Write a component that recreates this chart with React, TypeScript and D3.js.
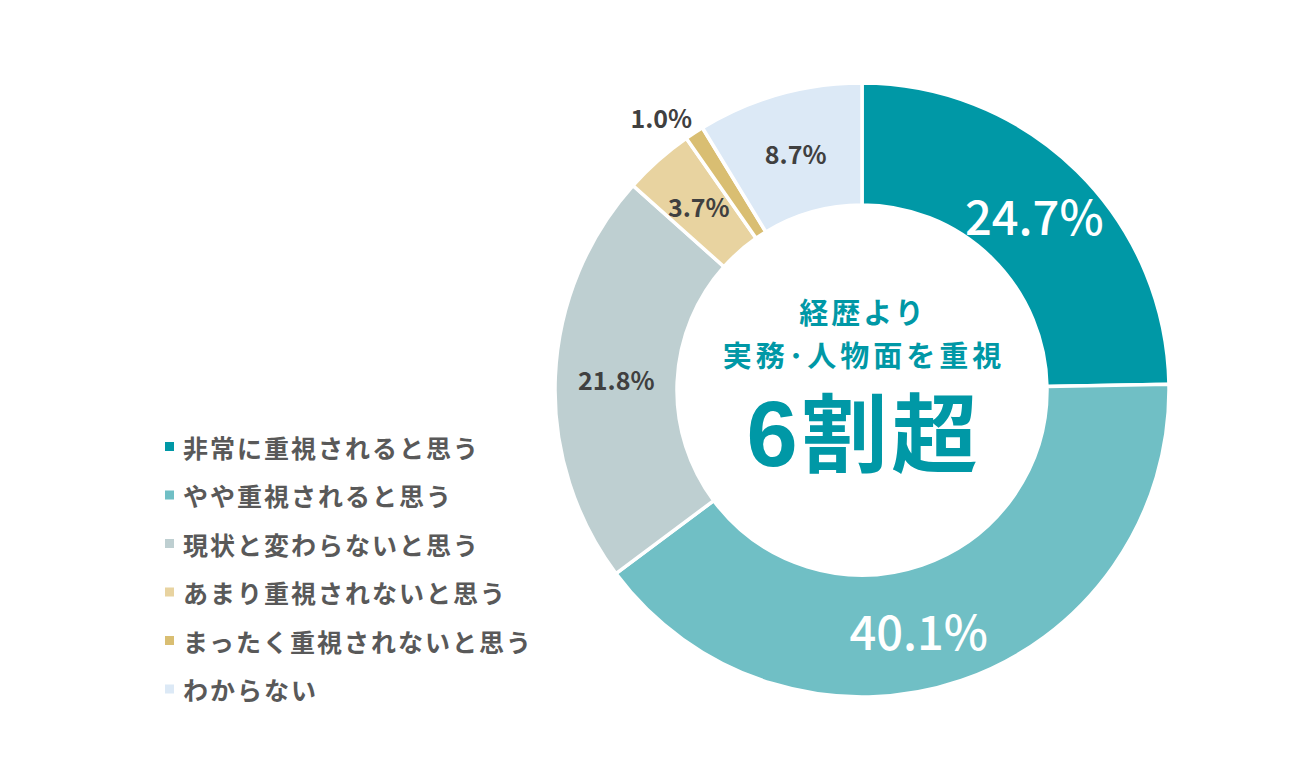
import React from "react";
import * as d3 from "d3";

const categories = [
  "非常に重視されると思う",
  "やや重視されると思う",
  "現状と変わらないと思う",
  "あまり重視されないと思う",
  "まったく重視されないと思う",
  "わからない",
];
const values = [24.7, 40.1, 21.8, 3.7, 1.0, 8.7];
const colors = ["#0098a6", "#70bfc5", "#becfd1", "#e8d3a0", "#d9be72", "#dce9f6"];
const labelText = ["24.7%", "40.1%", "21.8%", "3.7%", "1.0%", "8.7%"];
const centerLines = ["経歴より", "実務･人物面を重視"];
const headlineNum = "6";
const headlineText = "割超";

const FONT = "'Noto Sans CJK JP', 'Noto Sans', sans-serif";

export default function App() {
  const W = 1300, H = 780;
  const cx = 862, cy = 390;
  const rOuter = 307, rInner = 185;
  const data = categories.map((c, i) => ({ c, v: values[i], i }));
  const pie = d3.pie<any>().sort(null).value((d) => d.v);
  const arcs = pie(data);
  const arc = d3.arc<any>().innerRadius(rInner).outerRadius(rOuter);
  const labelArc = d3.arc<any>().innerRadius(246).outerRadius(246);
  const outerLabelArc = d3.arc<any>().innerRadius(338).outerRadius(338);

  const legendY = d3.scaleLinear().domain([0, categories.length - 1]).range([446.5, 689]);

  return (
    <svg width={W} height={H} style={{ position: "absolute", left: 0, top: 0, background: "#fff" }} fontFamily={FONT}>
      <g transform={`translate(${cx},${cy})`}>
        {arcs.map((a, i) => (
          <path key={i} d={arc(a) || ""} fill={colors[i]} stroke="#fff" strokeWidth={3.5} />
        ))}
        {arcs.map((a, i) => {
          const big = i < 2;
          const outside = values[i] < 2;
          let [x, y] = outside ? outerLabelArc.centroid(a) : labelArc.centroid(a);
          if (i === 1) { x -= 23; y += 7; }
          if (outside) { x -= 16; y += 10; }
          return (
            <text
              key={"l" + i}
              x={x}
              y={y}
              textAnchor="middle"
              dominantBaseline="central"
              fill={big ? "#ffffff" : "#404040"}
              fontSize={big ? 47 : 25}
              fontWeight={big ? 500 : 700}
            >
              {labelText[i]}
            </text>
          );
        })}
        <text x={1} y={-79} textAnchor="middle" dominantBaseline="central" fill="#0098a6" fontSize={29} fontWeight={700} letterSpacing={3}>
          {centerLines[0]}
        </text>
        <text x={2} y={-36} textAnchor="middle" dominantBaseline="central" fill="#0098a6" fontSize={29} fontWeight={700} letterSpacing={4}>
          {centerLines[1]}
        </text>
        <text x={2} y={76} textAnchor="middle" fill="#0098a6" fontWeight={700}>
          <tspan fontFamily="'Liberation Sans', Arial, sans-serif" fontSize={92}>{headlineNum}</tspan>
          <tspan fontSize={86} dx={4} letterSpacing={4}>{headlineText}</tspan>
        </text>
      </g>
      <g>
        {categories.map((c, i) => (
          <g key={c} transform={`translate(165,${legendY(i)})`}>
            <rect x={0} y={-4.5} width={9} height={9} fill={colors[i]} />
            <text x={18} y={0} dominantBaseline="central" fill="#595959" fontSize={25} fontWeight={700} letterSpacing={2}>
              {c}
            </text>
          </g>
        ))}
      </g>
    </svg>
  );
}
